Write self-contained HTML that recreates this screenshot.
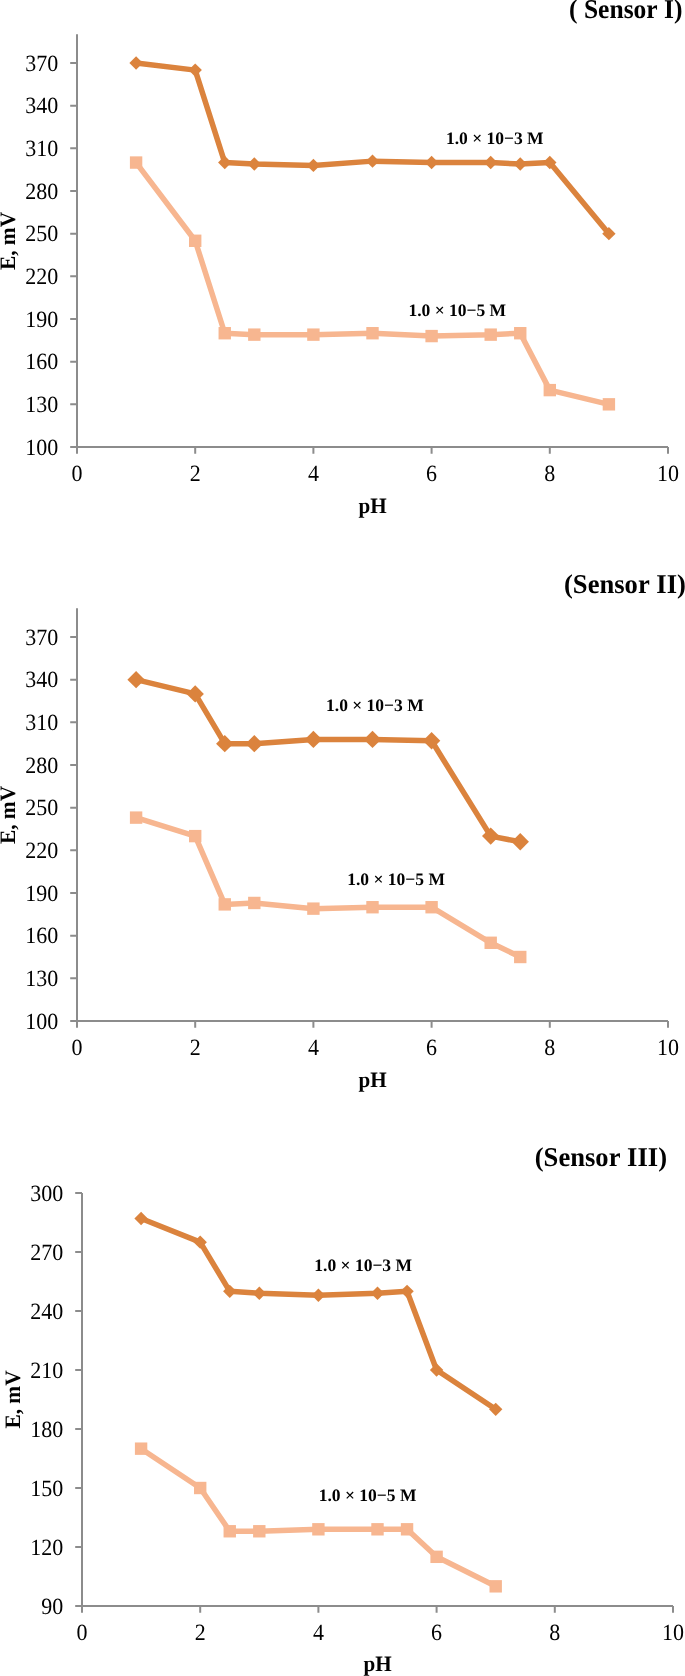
<!DOCTYPE html>
<html><head><meta charset="utf-8"><title>pH response</title>
<style>
html,body{margin:0;padding:0;background:#fff;}
body{width:685px;height:1676px;overflow:hidden;}
svg{display:block;font-family:"Liberation Serif",serif;text-rendering:geometricPrecision;font-kerning:none;will-change:transform;opacity:0.999;}
</style></head>
<body>
<svg width="685" height="1676" viewBox="0 0 685 1676">
<rect width="685" height="1676" fill="#fff"/>
<path d="M77 34.2V447H668" fill="none" stroke="#8C8C8C" stroke-width="2"/>
<path d="M70.2 447.00H77M70.2 404.33H77M70.2 361.67H77M70.2 319.00H77M70.2 276.33H77M70.2 233.67H77M70.2 191.00H77M70.2 148.33H77M70.2 105.67H77M70.2 63.00H77M77.00 447V453.8M195.20 447V453.8M313.40 447V453.8M431.60 447V453.8M549.80 447V453.8M668.00 447V453.8" fill="none" stroke="#8C8C8C" stroke-width="2"/>
<text transform="translate(58.30 454.60) scale(1.0 1.06)" text-anchor="end" font-size="22">100</text>
<text transform="translate(58.30 411.93) scale(1.0 1.06)" text-anchor="end" font-size="22">130</text>
<text transform="translate(58.30 369.27) scale(1.0 1.06)" text-anchor="end" font-size="22">160</text>
<text transform="translate(58.30 326.60) scale(1.0 1.06)" text-anchor="end" font-size="22">190</text>
<text transform="translate(58.30 283.93) scale(1.0 1.06)" text-anchor="end" font-size="22">220</text>
<text transform="translate(58.30 241.27) scale(1.0 1.06)" text-anchor="end" font-size="22">250</text>
<text transform="translate(58.30 198.60) scale(1.0 1.06)" text-anchor="end" font-size="22">280</text>
<text transform="translate(58.30 155.93) scale(1.0 1.06)" text-anchor="end" font-size="22">310</text>
<text transform="translate(58.30 113.27) scale(1.0 1.06)" text-anchor="end" font-size="22">340</text>
<text transform="translate(58.30 70.60) scale(1.0 1.06)" text-anchor="end" font-size="22">370</text>
<text transform="translate(77.00 480.70) scale(1.0 1.06)" text-anchor="middle" font-size="22">0</text>
<text transform="translate(195.20 480.70) scale(1.0 1.06)" text-anchor="middle" font-size="22">2</text>
<text transform="translate(313.40 480.70) scale(1.0 1.06)" text-anchor="middle" font-size="22">4</text>
<text transform="translate(431.60 480.70) scale(1.0 1.06)" text-anchor="middle" font-size="22">6</text>
<text transform="translate(549.80 480.70) scale(1.0 1.06)" text-anchor="middle" font-size="22">8</text>
<text transform="translate(668.00 480.70) scale(1.0 1.06)" text-anchor="middle" font-size="22">10</text>
<text transform="translate(372.70 513.20) scale(0.96 1.0)" text-anchor="middle" font-size="22" font-weight="bold">pH</text>
<text transform="translate(14.60 241.00) rotate(-90) scale(0.97 1.0)" text-anchor="middle" font-size="22" font-weight="bold">E, mV</text>
<text transform="translate(682.50 18.00) scale(0.96 1.02)" text-anchor="end" font-size="26.6" font-weight="bold" xml:space="preserve">( Sensor I)</text>
<text transform="translate(445.90 143.60)" font-size="17.5" font-weight="bold">1.0 × 10−3 M</text>
<text transform="translate(408.40 315.90)" font-size="17.5" font-weight="bold">1.0 × 10−5 M</text>
<path d="M136.10 63.00 L195.20 70.11 L224.75 162.56 L254.30 163.98 L313.40 165.40 L372.50 161.13 L431.60 162.56 L490.70 162.56 L520.25 163.98 L549.80 162.56 L608.90 233.67" fill="none" stroke="#DB833D" stroke-width="5.5" stroke-linejoin="round" stroke-linecap="round"/>
<path d="M136.10 56.30L142.80 63.00L136.10 69.70L129.40 63.00Z" fill="#DB833D"/>
<path d="M195.20 63.41L201.90 70.11L195.20 76.81L188.50 70.11Z" fill="#DB833D"/>
<path d="M224.75 155.86L231.45 162.56L224.75 169.26L218.05 162.56Z" fill="#DB833D"/>
<path d="M254.30 157.28L261.00 163.98L254.30 170.68L247.60 163.98Z" fill="#DB833D"/>
<path d="M313.40 158.70L320.10 165.40L313.40 172.10L306.70 165.40Z" fill="#DB833D"/>
<path d="M372.50 154.43L379.20 161.13L372.50 167.83L365.80 161.13Z" fill="#DB833D"/>
<path d="M431.60 155.86L438.30 162.56L431.60 169.26L424.90 162.56Z" fill="#DB833D"/>
<path d="M490.70 155.86L497.40 162.56L490.70 169.26L484.00 162.56Z" fill="#DB833D"/>
<path d="M520.25 157.28L526.95 163.98L520.25 170.68L513.55 163.98Z" fill="#DB833D"/>
<path d="M549.80 155.86L556.50 162.56L549.80 169.26L543.10 162.56Z" fill="#DB833D"/>
<path d="M608.90 226.97L615.60 233.67L608.90 240.37L602.20 233.67Z" fill="#DB833D"/>
<path d="M136.10 162.56 L195.20 240.78 L224.75 333.22 L254.30 334.64 L313.40 334.64 L372.50 333.22 L431.60 336.07 L490.70 334.64 L520.25 333.22 L549.80 390.11 L608.90 404.33" fill="none" stroke="#F7B690" stroke-width="5.5" stroke-linejoin="round" stroke-linecap="round"/>
<rect x="129.90" y="156.36" width="12.40" height="12.40" fill="#F7B690"/>
<rect x="189.00" y="234.58" width="12.40" height="12.40" fill="#F7B690"/>
<rect x="218.55" y="327.02" width="12.40" height="12.40" fill="#F7B690"/>
<rect x="248.10" y="328.44" width="12.40" height="12.40" fill="#F7B690"/>
<rect x="307.20" y="328.44" width="12.40" height="12.40" fill="#F7B690"/>
<rect x="366.30" y="327.02" width="12.40" height="12.40" fill="#F7B690"/>
<rect x="425.40" y="329.87" width="12.40" height="12.40" fill="#F7B690"/>
<rect x="484.50" y="328.44" width="12.40" height="12.40" fill="#F7B690"/>
<rect x="514.05" y="327.02" width="12.40" height="12.40" fill="#F7B690"/>
<rect x="543.60" y="383.91" width="12.40" height="12.40" fill="#F7B690"/>
<rect x="602.70" y="398.13" width="12.40" height="12.40" fill="#F7B690"/>
<path d="M77 608.2V1021H668" fill="none" stroke="#8C8C8C" stroke-width="2"/>
<path d="M70.2 1021.00H77M70.2 978.33H77M70.2 935.67H77M70.2 893.00H77M70.2 850.33H77M70.2 807.67H77M70.2 765.00H77M70.2 722.33H77M70.2 679.67H77M70.2 637.00H77M77.00 1021V1027.8M195.20 1021V1027.8M313.40 1021V1027.8M431.60 1021V1027.8M549.80 1021V1027.8M668.00 1021V1027.8" fill="none" stroke="#8C8C8C" stroke-width="2"/>
<text transform="translate(58.30 1028.60) scale(1.0 1.06)" text-anchor="end" font-size="22">100</text>
<text transform="translate(58.30 985.93) scale(1.0 1.06)" text-anchor="end" font-size="22">130</text>
<text transform="translate(58.30 943.27) scale(1.0 1.06)" text-anchor="end" font-size="22">160</text>
<text transform="translate(58.30 900.60) scale(1.0 1.06)" text-anchor="end" font-size="22">190</text>
<text transform="translate(58.30 857.93) scale(1.0 1.06)" text-anchor="end" font-size="22">220</text>
<text transform="translate(58.30 815.27) scale(1.0 1.06)" text-anchor="end" font-size="22">250</text>
<text transform="translate(58.30 772.60) scale(1.0 1.06)" text-anchor="end" font-size="22">280</text>
<text transform="translate(58.30 729.93) scale(1.0 1.06)" text-anchor="end" font-size="22">310</text>
<text transform="translate(58.30 687.27) scale(1.0 1.06)" text-anchor="end" font-size="22">340</text>
<text transform="translate(58.30 644.60) scale(1.0 1.06)" text-anchor="end" font-size="22">370</text>
<text transform="translate(77.00 1054.70) scale(1.0 1.06)" text-anchor="middle" font-size="22">0</text>
<text transform="translate(195.20 1054.70) scale(1.0 1.06)" text-anchor="middle" font-size="22">2</text>
<text transform="translate(313.40 1054.70) scale(1.0 1.06)" text-anchor="middle" font-size="22">4</text>
<text transform="translate(431.60 1054.70) scale(1.0 1.06)" text-anchor="middle" font-size="22">6</text>
<text transform="translate(549.80 1054.70) scale(1.0 1.06)" text-anchor="middle" font-size="22">8</text>
<text transform="translate(668.00 1054.70) scale(1.0 1.06)" text-anchor="middle" font-size="22">10</text>
<text transform="translate(372.70 1087.20) scale(0.96 1.0)" text-anchor="middle" font-size="22" font-weight="bold">pH</text>
<text transform="translate(14.60 815.00) rotate(-90) scale(0.97 1.0)" text-anchor="middle" font-size="22" font-weight="bold">E, mV</text>
<text transform="translate(685.90 592.50) scale(1.0 1.02)" text-anchor="end" font-size="26.6" font-weight="bold" xml:space="preserve">(Sensor II)</text>
<text transform="translate(326.00 711.30)" font-size="17.5" font-weight="bold">1.0 × 10−3 M</text>
<text transform="translate(347.20 885.30)" font-size="17.5" font-weight="bold">1.0 × 10−5 M</text>
<path d="M136.10 679.67 L195.20 693.89 L224.75 743.67 L254.30 743.67 L313.40 739.40 L372.50 739.40 L431.60 740.82 L490.70 836.11 L520.25 841.80" fill="none" stroke="#DB833D" stroke-width="5.5" stroke-linejoin="round" stroke-linecap="round"/>
<path d="M136.10 670.97L144.80 679.67L136.10 688.37L127.40 679.67Z" fill="#DB833D"/>
<path d="M195.20 685.19L203.90 693.89L195.20 702.59L186.50 693.89Z" fill="#DB833D"/>
<path d="M224.75 734.97L233.45 743.67L224.75 752.37L216.05 743.67Z" fill="#DB833D"/>
<path d="M254.30 734.97L263.00 743.67L254.30 752.37L245.60 743.67Z" fill="#DB833D"/>
<path d="M313.40 730.70L322.10 739.40L313.40 748.10L304.70 739.40Z" fill="#DB833D"/>
<path d="M372.50 730.70L381.20 739.40L372.50 748.10L363.80 739.40Z" fill="#DB833D"/>
<path d="M431.60 732.12L440.30 740.82L431.60 749.52L422.90 740.82Z" fill="#DB833D"/>
<path d="M490.70 827.41L499.40 836.11L490.70 844.81L482.00 836.11Z" fill="#DB833D"/>
<path d="M520.25 833.10L528.95 841.80L520.25 850.50L511.55 841.80Z" fill="#DB833D"/>
<path d="M136.10 817.62 L195.20 836.11 L224.75 904.38 L254.30 902.96 L313.40 908.64 L372.50 907.22 L431.60 907.22 L490.70 942.78 L520.25 957.00" fill="none" stroke="#F7B690" stroke-width="5.5" stroke-linejoin="round" stroke-linecap="round"/>
<rect x="129.90" y="811.42" width="12.40" height="12.40" fill="#F7B690"/>
<rect x="189.00" y="829.91" width="12.40" height="12.40" fill="#F7B690"/>
<rect x="218.55" y="898.18" width="12.40" height="12.40" fill="#F7B690"/>
<rect x="248.10" y="896.76" width="12.40" height="12.40" fill="#F7B690"/>
<rect x="307.20" y="902.44" width="12.40" height="12.40" fill="#F7B690"/>
<rect x="366.30" y="901.02" width="12.40" height="12.40" fill="#F7B690"/>
<rect x="425.40" y="901.02" width="12.40" height="12.40" fill="#F7B690"/>
<rect x="484.50" y="936.58" width="12.40" height="12.40" fill="#F7B690"/>
<rect x="514.05" y="950.80" width="12.40" height="12.40" fill="#F7B690"/>
<path d="M82 1193V1606H673" fill="none" stroke="#8C8C8C" stroke-width="2"/>
<path d="M75.2 1606.00H82M75.2 1547.00H82M75.2 1488.00H82M75.2 1429.00H82M75.2 1370.00H82M75.2 1311.00H82M75.2 1252.00H82M75.2 1193.00H82M82.00 1606V1612.8M200.20 1606V1612.8M318.40 1606V1612.8M436.60 1606V1612.8M554.80 1606V1612.8M673.00 1606V1612.8" fill="none" stroke="#8C8C8C" stroke-width="2"/>
<text transform="translate(63.30 1613.60) scale(1.0 1.06)" text-anchor="end" font-size="22">90</text>
<text transform="translate(63.30 1554.60) scale(1.0 1.06)" text-anchor="end" font-size="22">120</text>
<text transform="translate(63.30 1495.60) scale(1.0 1.06)" text-anchor="end" font-size="22">150</text>
<text transform="translate(63.30 1436.60) scale(1.0 1.06)" text-anchor="end" font-size="22">180</text>
<text transform="translate(63.30 1377.60) scale(1.0 1.06)" text-anchor="end" font-size="22">210</text>
<text transform="translate(63.30 1318.60) scale(1.0 1.06)" text-anchor="end" font-size="22">240</text>
<text transform="translate(63.30 1259.60) scale(1.0 1.06)" text-anchor="end" font-size="22">270</text>
<text transform="translate(63.30 1200.60) scale(1.0 1.06)" text-anchor="end" font-size="22">300</text>
<text transform="translate(82.00 1639.70) scale(1.0 1.06)" text-anchor="middle" font-size="22">0</text>
<text transform="translate(200.20 1639.70) scale(1.0 1.06)" text-anchor="middle" font-size="22">2</text>
<text transform="translate(318.40 1639.70) scale(1.0 1.06)" text-anchor="middle" font-size="22">4</text>
<text transform="translate(436.60 1639.70) scale(1.0 1.06)" text-anchor="middle" font-size="22">6</text>
<text transform="translate(554.80 1639.70) scale(1.0 1.06)" text-anchor="middle" font-size="22">8</text>
<text transform="translate(673.00 1639.70) scale(1.0 1.06)" text-anchor="middle" font-size="22">10</text>
<text transform="translate(377.70 1671.00) scale(0.96 1.0)" text-anchor="middle" font-size="22" font-weight="bold">pH</text>
<text transform="translate(19.60 1399.50) rotate(-90) scale(0.97 1.0)" text-anchor="middle" font-size="22" font-weight="bold">E, mV</text>
<text transform="translate(667.00 1165.60) scale(1.0 1.02)" text-anchor="end" font-size="26.6" font-weight="bold" xml:space="preserve">(Sensor III)</text>
<text transform="translate(314.30 1271.20)" font-size="17.5" font-weight="bold">1.0 × 10−3 M</text>
<text transform="translate(318.70 1500.90)" font-size="17.5" font-weight="bold">1.0 × 10−5 M</text>
<path d="M141.10 1218.57 L200.20 1242.17 L229.75 1291.33 L259.30 1293.30 L318.40 1295.27 L377.50 1293.30 L407.05 1291.33 L436.60 1370.00 L495.70 1409.33" fill="none" stroke="#DB833D" stroke-width="5.5" stroke-linejoin="round" stroke-linecap="round"/>
<path d="M141.10 1211.87L147.80 1218.57L141.10 1225.27L134.40 1218.57Z" fill="#DB833D"/>
<path d="M200.20 1235.47L206.90 1242.17L200.20 1248.87L193.50 1242.17Z" fill="#DB833D"/>
<path d="M229.75 1284.63L236.45 1291.33L229.75 1298.03L223.05 1291.33Z" fill="#DB833D"/>
<path d="M259.30 1286.60L266.00 1293.30L259.30 1300.00L252.60 1293.30Z" fill="#DB833D"/>
<path d="M318.40 1288.57L325.10 1295.27L318.40 1301.97L311.70 1295.27Z" fill="#DB833D"/>
<path d="M377.50 1286.60L384.20 1293.30L377.50 1300.00L370.80 1293.30Z" fill="#DB833D"/>
<path d="M407.05 1284.63L413.75 1291.33L407.05 1298.03L400.35 1291.33Z" fill="#DB833D"/>
<path d="M436.60 1363.30L443.30 1370.00L436.60 1376.70L429.90 1370.00Z" fill="#DB833D"/>
<path d="M495.70 1402.63L502.40 1409.33L495.70 1416.03L489.00 1409.33Z" fill="#DB833D"/>
<path d="M141.10 1448.67 L200.20 1488.00 L229.75 1531.27 L259.30 1531.27 L318.40 1529.30 L377.50 1529.30 L407.05 1529.30 L436.60 1556.83 L495.70 1586.33" fill="none" stroke="#F7B690" stroke-width="5.5" stroke-linejoin="round" stroke-linecap="round"/>
<rect x="134.90" y="1442.47" width="12.40" height="12.40" fill="#F7B690"/>
<rect x="194.00" y="1481.80" width="12.40" height="12.40" fill="#F7B690"/>
<rect x="223.55" y="1525.07" width="12.40" height="12.40" fill="#F7B690"/>
<rect x="253.10" y="1525.07" width="12.40" height="12.40" fill="#F7B690"/>
<rect x="312.20" y="1523.10" width="12.40" height="12.40" fill="#F7B690"/>
<rect x="371.30" y="1523.10" width="12.40" height="12.40" fill="#F7B690"/>
<rect x="400.85" y="1523.10" width="12.40" height="12.40" fill="#F7B690"/>
<rect x="430.40" y="1550.63" width="12.40" height="12.40" fill="#F7B690"/>
<rect x="489.50" y="1580.13" width="12.40" height="12.40" fill="#F7B690"/>
</svg>
</body></html>
